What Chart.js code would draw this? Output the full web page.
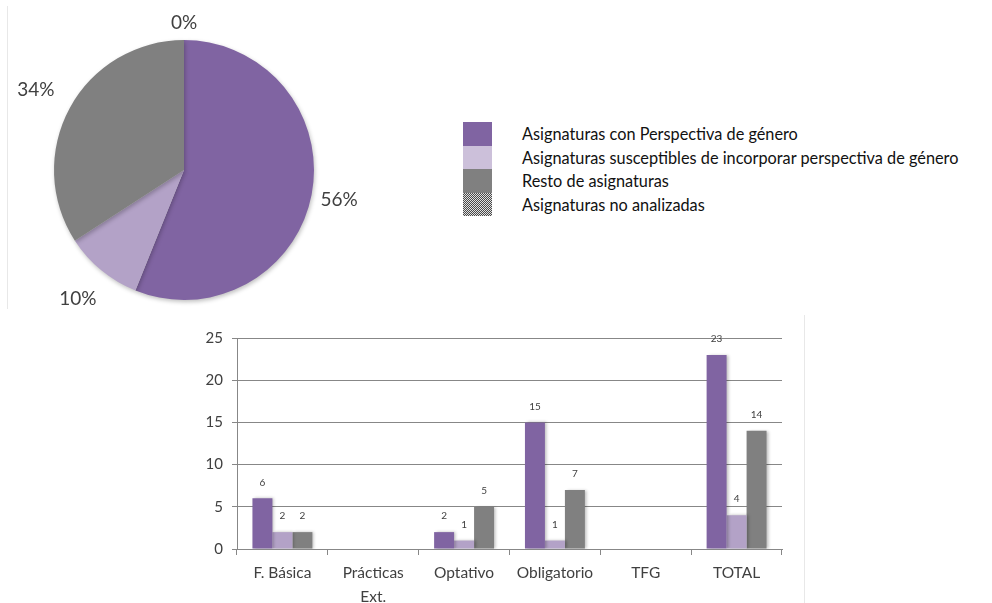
<!DOCTYPE html>
<html>
<head>
<meta charset="utf-8">
<script src="https://cdn.jsdelivr.net/npm/chart.js@4.4.0/dist/chart.umd.min.js"></script>
<style>
	body {margin: 0; background: #fff; width: 992px; height: 603px; overflow: hidden; position: relative; font-family: Lato, sans-serif;}
	#pie-chart {position: absolute; left: 0; top: 0;}
	#bar-chart {position: absolute; left: 180px; top: 320px;}
	.frame {position: absolute; border-left: 1px solid #e8e8e8;}
	#legend {position: absolute; left: 463px; top: 122px;}
	#legend .row {display: flex; align-items: center; height: 23.5px;}
	#legend .box {width: 29px; height: 23.5px; margin-right: 30px;}
	#legend .txt {font-size: 16.3px; color: #111; white-space: nowrap;}
	.pattern {background-image: repeating-conic-gradient(#4a4a4a 0 25%, #e0e0e0 0 50%); background-size: 2px 2px;}
</style>
</head>
<body>
<div class="frame" style="left:7px; top:6px; height:303px;"></div>
<div class="frame" style="left:804px; top:315px; height:288px;"></div>
<canvas id="pie-chart" width="420" height="310"></canvas>
<div id="legend"></div>
<canvas id="bar-chart" width="620" height="283"></canvas>
<script>
// pie: total subjects per group
const groupLabels = ['Asignaturas con Perspectiva de género', 'Asignaturas susceptibles de incorporar perspectiva de género', 'Resto de asignaturas', 'Asignaturas no analizadas'];
const pieValues = [23, 4, 14, 0];
const pieColors = ['#8064A2', '#B3A2C7', '#808080', null];
const legendColors = ['#8064A2', '#CCC0DA', '#808080', null];

// bars per subject type
const categories = ['F. Básica', ['Prácticas', 'Ext.'], 'Optativo', 'Obligatorio', 'TFG', 'TOTAL'];
const conPerspectiva = [6, null, 2, 15, null, 23];
const susceptibles = [2, null, 1, 1, null, 4];
const resto = [2, null, 5, 7, null, 14];
const yTicks = {min: 0, max: 25, step: 5};

const textColor = '#404040';
const gridColor = '#878787';

function makePattern(ctx) {
	const c = document.createElement('canvas');
	c.width = 2;
	c.height = 2;
	const p = c.getContext('2d');
	p.fillStyle = '#e0e0e0';
	p.fillRect(0, 0, 2, 2);
	p.fillStyle = '#4a4a4a';
	p.fillRect(0, 0, 1, 1);
	p.fillRect(1, 1, 1, 1);
	return ctx.createPattern(c, 'repeat');
}

// legend (html)
const legendEl = document.getElementById('legend');
groupLabels.forEach((label, i) => {
	const row = document.createElement('div');
	row.className = 'row';
	const box = document.createElement('div');
	box.className = 'box';
	if (legendColors[i]) {
		box.style.background = legendColors[i];
	} else {
		box.classList.add('pattern');
	}
	const txt = document.createElement('span');
	txt.className = 'txt';
	txt.textContent = label;
	row.appendChild(box);
	row.appendChild(txt);
	legendEl.appendChild(row);
});

const pieLabels = {
	id: 'pieLabels',
	beforeDatasetsDraw(chart) {
		const ctx = chart.ctx;
		ctx.save();
		ctx.shadowColor = 'rgba(0,0,0,0.25)';
		ctx.shadowBlur = 4;
		ctx.shadowOffsetX = 1;
		ctx.shadowOffsetY = 2;
	},
	afterDatasetsDraw(chart) {
		const ctx = chart.ctx;
		ctx.restore();
		const meta = chart.getDatasetMeta(0);
		const data = chart.data.datasets[0].data;
		const total = data.reduce((a, b) => a + b, 0);
		ctx.save();
		ctx.font = '19px Lato';
		ctx.fillStyle = textColor;
		ctx.textAlign = 'center';
		ctx.textBaseline = 'middle';
		meta.data.forEach((arc, i) => {
			const mid = (arc.startAngle + arc.endAngle) / 2;
			const text = Math.round(data[i] / total * 100) + '%';
			const w = ctx.measureText(text).width;
			const cos = Math.cos(mid);
			const sin = Math.sin(mid);
			// labels on the left side sit a little further out
			const pad = cos < -0.3 ? 18 : 8;
			const d = arc.outerRadius + pad + Math.abs(cos) * w / 2 + Math.abs(sin) * 9;
			ctx.fillText(text, arc.x + cos * d, arc.y + sin * d);
		});
		ctx.restore();
	},
};

const pieEl = document.getElementById('pie-chart');
const pieCtx = pieEl.getContext('2d');
new Chart(pieEl, {
	type: 'pie',
	data: {
		labels: groupLabels,
		datasets: [{
			data: pieValues,
			backgroundColor: pieColors.map(c => c || makePattern(pieCtx)),
			borderWidth: 0,
		}],
	},
	options: {
		responsive: false,
		animation: false,
		layout: {padding: {left: 54, top: 40, right: 106, bottom: 10}},
		plugins: {legend: {display: false}, tooltip: {enabled: false}},
	},
	plugins: [pieLabels],
});

const barLabels = {
	id: 'barLabels',
	beforeDatasetsDraw(chart) {
		const ctx = chart.ctx;
		ctx.save();
		ctx.shadowColor = 'rgba(0,0,0,0.25)';
		ctx.shadowBlur = 3;
		ctx.shadowOffsetX = 2;
	},
	afterDatasetsDraw(chart) {
		const ctx = chart.ctx;
		ctx.restore();
		ctx.save();
		ctx.font = '10px Lato';
		ctx.fillStyle = textColor;
		ctx.textAlign = 'center';
		ctx.textBaseline = 'middle';
		chart.data.datasets.forEach((ds, di) => {
			chart.getDatasetMeta(di).data.forEach((bar, i) => {
				const v = ds.data[i];
				if (v === null) return;
				ctx.fillText(String(v), bar.x, bar.y - 16);
			});
		});
		ctx.restore();
	},
};

const barEl = document.getElementById('bar-chart');
new Chart(barEl, {
	type: 'bar',
	data: {
		labels: categories,
		datasets: [
			{label: groupLabels[0], data: conPerspectiva, backgroundColor: pieColors[0]},
			{label: groupLabels[1], data: susceptibles, backgroundColor: pieColors[1]},
			{label: groupLabels[2], data: resto, backgroundColor: pieColors[2]},
		],
	},
	options: {
		responsive: false,
		animation: false,
		categoryPercentage: 0.66,
		barPercentage: 1.0,
		layout: {padding: {top: 17, right: 18, left: 0, bottom: 0}},
		plugins: {legend: {display: false}, tooltip: {enabled: false}},
		scales: {
			x: {
				grid: {drawOnChartArea: false, offset: true, tickLength: 6, color: gridColor},
				border: {color: gridColor},
				ticks: {color: textColor, font: {family: 'Lato', size: 15.5, lineHeight: 1.55}, maxRotation: 0, padding: 6},
				afterFit(scale) { scale.height = 54; },
			},
			y: {
				min: yTicks.min,
				max: yTicks.max,
				ticks: {stepSize: yTicks.step, color: textColor, font: {family: 'Lato', size: 15}, padding: 9},
				grid: {color: gridColor, tickLength: 5},
				border: {color: gridColor},
				afterFit(scale) { scale.width = 57; },
			},
		},
	},
	plugins: [barLabels],
});
</script>
</body>
</html>
